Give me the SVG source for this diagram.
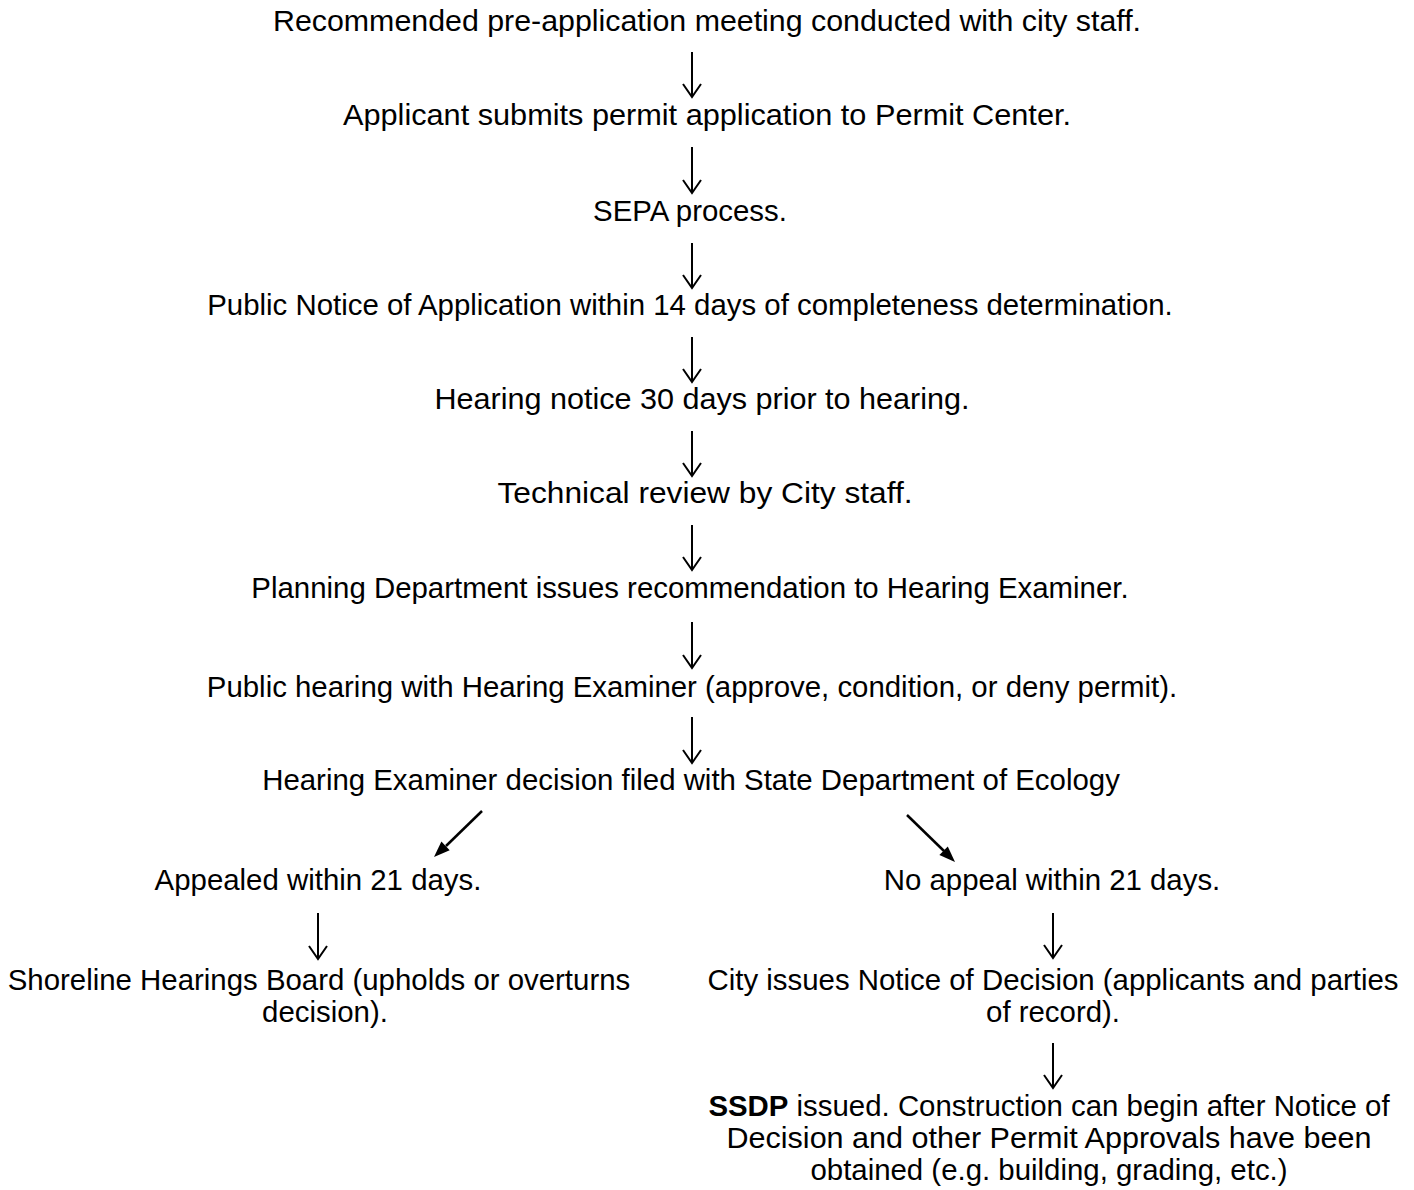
<svg xmlns="http://www.w3.org/2000/svg" width="1414" height="1190" viewBox="0 0 1414 1190">
<defs>
<style>
text{font-family:"Liberation Sans",Arial,sans-serif;font-size:29.4px;fill:#000;text-anchor:middle}
.dn{fill:none;stroke:#000;stroke-width:2}
.dg{stroke:#000;stroke-width:2.5;fill:none}
.hd{fill:#000}
</style>
</defs>
<rect width="1414" height="1190" fill="#fff"/>
<g id="n1"><text x="707" y="31" textLength="868" lengthAdjust="spacingAndGlyphs">Recommended pre-application meeting conducted with city staff.</text></g>
<g id="n2"><text x="707" y="125" textLength="728" lengthAdjust="spacingAndGlyphs">Applicant submits permit application to Permit Center.</text></g>
<g id="n3"><text x="690" y="221">SEPA process.</text></g>
<g id="n4"><text x="690" y="315">Public Notice of Application within 14 days of completeness determination.</text></g>
<g id="n5"><text x="702" y="409" textLength="535" lengthAdjust="spacingAndGlyphs">Hearing notice 30 days prior to hearing.</text></g>
<g id="n6"><text x="705" y="503" textLength="415" lengthAdjust="spacingAndGlyphs">Technical review by City staff.</text></g>
<g id="n7"><text x="690" y="598">Planning Department issues recommendation to Hearing Examiner.</text></g>
<g id="n8"><text x="692" y="697">Public hearing with Hearing Examiner (approve, condition, or deny permit).</text></g>
<g id="n9"><text x="691" y="790">Hearing Examiner decision filed with State Department of Ecology</text></g>
<g id="n10"><text x="318" y="890">Appealed within 21 days.</text></g>
<g id="n11"><text x="1052" y="890">No appeal within 21 days.</text></g>
<g id="n12"><text x="319" y="990">Shoreline Hearings Board (upholds or overturns</text><text x="325" y="1022">decision).</text></g>
<g id="n13"><text x="1053" y="990">City issues Notice of Decision (applicants and parties</text><text x="1053" y="1022">of record).</text></g>
<g id="n14"><text x="1049" y="1116"><tspan font-weight="bold">SSDP</tspan> issued. Construction can begin after Notice of</text><text x="1049" y="1148" textLength="645" lengthAdjust="spacingAndGlyphs">Decision and other Permit Approvals have been</text><text x="1049" y="1180">obtained (e.g. building, grading, etc.)</text></g>
<g id="connectors">
<path class="dn" d="M692,52V97M683,84L692,97L701,84"/>
<path class="dn" d="M692,147V193M683,180L692,193L701,180"/>
<path class="dn" d="M692,243V288M683,275L692,288L701,275"/>
<path class="dn" d="M692,337V382M683,369L692,382L701,369"/>
<path class="dn" d="M692,431V476M683,463L692,476L701,463"/>
<path class="dn" d="M692,525V570M683,557L692,570L701,557"/>
<path class="dn" d="M692,622V668M683,655L692,668L701,655"/>
<path class="dn" d="M692,717V763M683,750L692,763L701,750"/>
<path class="dg" d="M482,811L446,846"/>
<polygon class="hd" points="434,857 449.7,850.3 441.4,841.6"/>
<path class="dg" d="M907,815L944,851"/>
<polygon class="hd" points="955,862 939.4,855.1 947.8,846.5"/>
<path class="dn" d="M318,913V959M309,946L318,959L327,946"/>
<path class="dn" d="M1053,913V958M1044,945L1053,958L1062,945"/>
<path class="dn" d="M1053,1043V1088M1044,1075L1053,1088L1062,1075"/>
</g>
</svg>
